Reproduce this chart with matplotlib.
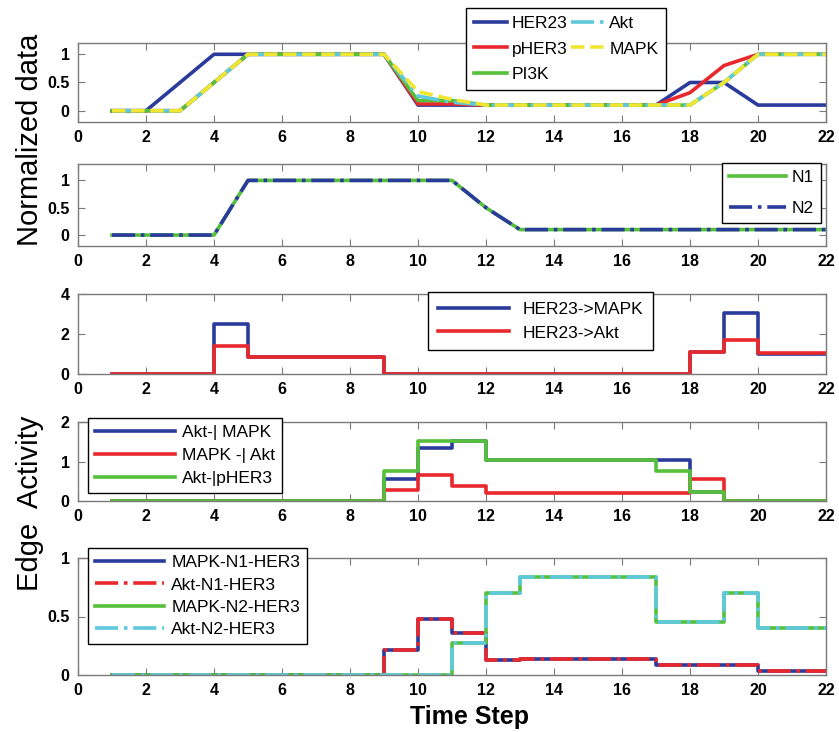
import numpy as np
import matplotlib
matplotlib.use("Agg")
import matplotlib.pyplot as plt

plt.rcParams['font.family'] = ['Liberation Sans', 'DejaVu Sans']

# ---- data ----
t = np.arange(1, 23)

her23 = [0, 0, 0.5, 1, 1, 1, 1, 1, 1, 0.1, 0.1, 0.1, 0.1, 0.1, 0.1, 0.1, 0.1, 0.5, 0.5, 0.1, 0.1, 0.1]
pher3 = [0, 0, 0, 0.5, 1, 1, 1, 1, 1, 0.12, 0.12, 0.1, 0.1, 0.1, 0.1, 0.1, 0.1, 0.32, 0.8, 1, 1, 1]
pi3k = [0, 0, 0, 0.5, 1, 1, 1, 1, 1, 0.18, 0.18, 0.1, 0.1, 0.1, 0.1, 0.1, 0.1, 0.1, 0.5, 1, 1, 1]
akt = [0, 0, 0, 0.5, 1, 1, 1, 1, 1, 0.26, 0.15, 0.1, 0.1, 0.1, 0.1, 0.1, 0.1, 0.1, 0.5, 1, 1, 1]
mapk = [0, 0, 0, 0.5, 1, 1, 1, 1, 1, 0.34, 0.2, 0.1, 0.1, 0.1, 0.1, 0.1, 0.1, 0.1, 0.5, 1, 1, 1]

n1 = [0, 0, 0, 0, 1, 1, 1, 1, 1, 1, 1, 0.5, 0.1, 0.1, 0.1, 0.1, 0.1, 0.1, 0.1, 0.1, 0.1, 0.1]
n2 = n1

her23_mapk = [0, 0, 0, 2.5, 0.83, 0.83, 0.83, 0.83, 0, 0, 0, 0, 0, 0, 0, 0, 0, 1.1, 3.05, 1.0, 1.0, 1.0]
her23_akt = [0, 0, 0, 1.4, 0.85, 0.85, 0.85, 0.85, 0, 0, 0, 0, 0, 0, 0, 0, 0, 1.1, 1.7, 1.05, 1.05, 1.05]

akt_mapk = [0, 0, 0, 0, 0, 0, 0, 0, 0.56, 1.35, 1.52, 1.04, 1.04, 1.04, 1.04, 1.04, 1.04, 0.24, 0, 0, 0, 0]
mapk_akt = [0, 0, 0, 0, 0, 0, 0, 0, 0.28, 0.66, 0.38, 0.2, 0.2, 0.2, 0.2, 0.2, 0.2, 0.56, 0, 0, 0, 0]
akt_pher3 = [0, 0, 0, 0, 0, 0, 0, 0, 0.75, 1.52, 1.52, 1.04, 1.04, 1.04, 1.04, 1.04, 0.76, 0.24, 0, 0, 0, 0]

mapk_n1 = [0, 0, 0, 0, 0, 0, 0, 0, 0.21, 0.48, 0.36, 0.13, 0.14, 0.14, 0.14, 0.14, 0.085, 0.085, 0.085, 0.035, 0.035, 0.035]
akt_n1 = mapk_n1
mapk_n2 = [0, 0, 0, 0, 0, 0, 0, 0, 0, 0, 0.27, 0.70, 0.84, 0.84, 0.84, 0.84, 0.45, 0.45, 0.70, 0.40, 0.40, 0.40]
akt_n2 = mapk_n2

xticks = np.arange(0, 23, 2)

blue = '#2b3b9c'
red = '#e8282c'
green = '#56c03c'
cyan = '#5ec9dc'
yellow = '#f0e630'
grey = '#7a7a7a'

fig = plt.figure(figsize=(8.39, 7.32), dpi=100)

L = 78 / 839
W = (826 - 78) / 839
def add(top, bot):
    return fig.add_axes([L, 1 - bot / 732, W, (bot - top) / 732])

ax1 = add(43, 122)
ax2 = add(164, 246)
ax3 = add(294, 374)
ax4 = add(422, 501)
ax5 = add(558, 675)

lw = 2.6

# panel 1
ax1.plot(t, her23, color=blue, lw=lw, label='HER23')
ax1.plot(t, pher3, color=red, lw=lw, label='pHER3')
ax1.plot(t, pi3k, color=green, lw=lw, label='PI3K')
ax1.plot(t, akt, color=cyan, lw=lw, ls='-.', label='Akt')
ax1.plot(t, mapk, color=yellow, lw=lw, ls='--', label='MAPK')
ax1.set_ylim(-0.2, 1.2)
ax1.set_yticks([0, 0.5, 1])
ax1.set_yticklabels(['0', '0.5', '1'])

# panel 2
ax2.plot(t, n1, color=green, lw=lw, label='N1')
ax2.plot(t, n2, color=blue, lw=lw, ls='-.', label='N2')
ax2.set_ylim(-0.2, 1.3)
ax2.set_yticks([0, 0.5, 1])
ax2.set_yticklabels(['0', '0.5', '1'])

# panel 3
ax3.step(t, her23_mapk, where='post', color=blue, lw=lw, label='HER23->MAPK')
ax3.step(t, her23_akt, where='post', color=red, lw=lw, label='HER23->Akt')
ax3.set_ylim(0, 4)
ax3.set_yticks([0, 2, 4])

# panel 4
ax4.step(t, akt_mapk, where='post', color=blue, lw=lw, label='Akt-| MAPK')
ax4.step(t, mapk_akt, where='post', color=red, lw=lw, label='MAPK -| Akt')
ax4.step(t, akt_pher3, where='post', color=green, lw=lw, label='Akt-|pHER3')
ax4.set_ylim(0, 2)
ax4.set_yticks([0, 1, 2])

# panel 5
ax5.step(t, mapk_n1, where='post', color=blue, lw=lw, label='MAPK-N1-HER3')
ax5.step(t, akt_n1, where='post', color=red, lw=lw, ls='-.', label='Akt-N1-HER3')
ax5.step(t, mapk_n2, where='post', color=green, lw=lw, label='MAPK-N2-HER3')
ax5.step(t, akt_n2, where='post', color=cyan, lw=lw, ls='-.', label='Akt-N2-HER3')
ax5.set_ylim(0, 1)
ax5.set_yticks([0, 0.5, 1])
ax5.set_yticklabels(['0', '0.5', '1'])

for ax in (ax1, ax2, ax3, ax4, ax5):
    ax.set_xlim(0, 22)
    ax.set_xticks(xticks)
    for s in ax.spines.values():
        s.set_color(grey)
        s.set_linewidth(1.0)
    ax.tick_params(direction='in', top=True, right=True, length=5, color=grey,
                   labelsize=11.5, pad=6)
    for lab in ax.get_xticklabels() + ax.get_yticklabels():
        lab.set_fontweight('bold')

def leg(ax, x0, y0, hl, ls, **kw):
    lg = ax.legend(loc='upper left', bbox_to_anchor=(x0 / 839, 1 - y0 / 732),
                   bbox_transform=fig.transFigure, fancybox=False, framealpha=1,
                   edgecolor='black', handlelength=hl, labelspacing=ls,
                   fontsize=12.5, borderaxespad=0, **kw)
    lg.get_frame().set_linewidth(1.0)
    return lg

leg(ax1, 466, 8, 1.9, 0.6, ncol=2, columnspacing=0.2, handletextpad=0.3,
    borderpad=0.45)
leg(ax2, 722, 163, 3.3, 0.9, handletextpad=0.3)
leg(ax3, 428, 292, 4.1, 0.5, borderpad=0.55)
leg(ax4, 88, 418, 4.6, 0.45, handletextpad=0.4)
leg(ax5, 88, 548, 4.0, 0.42, handletextpad=0.4)

ax5.set_xlabel('Time Step', fontsize=18, fontweight='bold')
ax5.xaxis.set_label_coords(0.523, -0.26)

fig.text(30 / 839, 1 - 140 / 732, 'Normalized data', rotation=90, fontsize=21,
         ha='center', va='center')
fig.text(30 / 839, 1 - 503 / 732, 'Edge  Activity', rotation=90, fontsize=21,
         ha='center', va='center')

fig.savefig('out.png', dpi=100)
